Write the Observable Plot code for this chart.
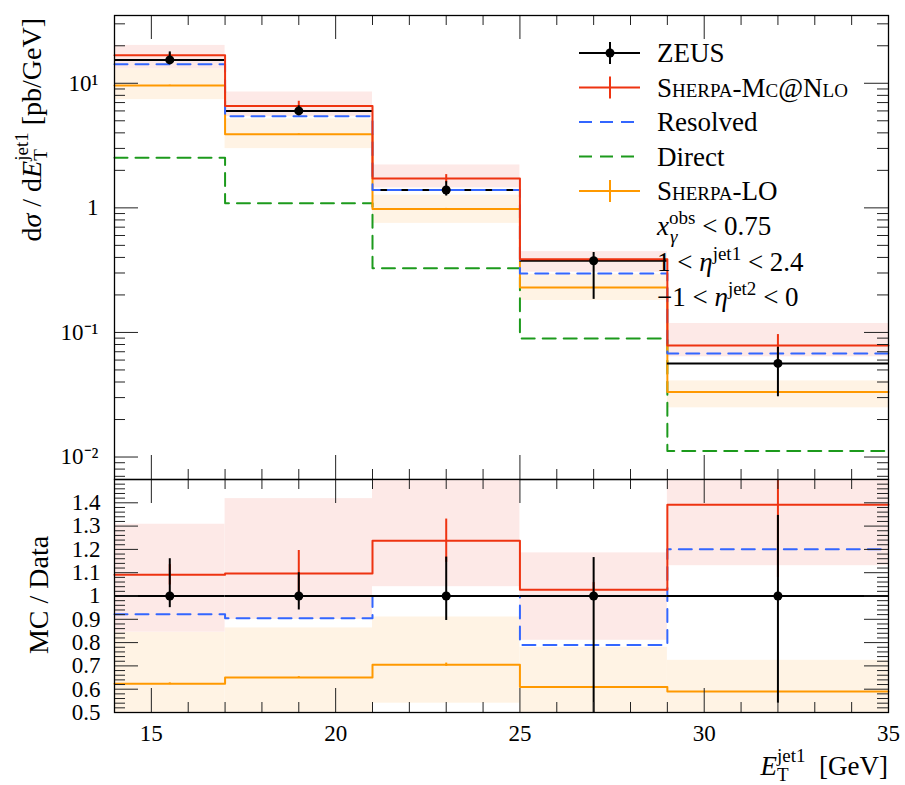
<!DOCTYPE html>
<html><head><meta charset="utf-8">
<script src="https://cdn.jsdelivr.net/npm/d3@7"></script>
<script src="https://cdn.jsdelivr.net/npm/@observablehq/plot@0.6"></script>
<style>
body{margin:0;background:#fff;}
#chart{position:relative;width:905px;height:785px;background:#fff;}
#chart svg{position:absolute;left:0;}
</style></head><body><div id="chart"></div>
<script>
// ---- data ----
const binEdges = [14, 17, 21, 25, 29, 35];
const binCenters = [15.5, 19, 23, 27, 32];
const zeus = [15.4, 6.0, 1.39, 0.376, 0.0564];
const zeusErrUpRatio = [1.16, 1.10, 1.167, 1.165, 1.346];
const zeusErrDnRatio = [0.95, 0.94, 0.895, 0.49, 0.54];
const sherpaMcAtNlo = [16.8, 6.58, 1.72, 0.386, 0.0785];
const sherpaMcAtNloErr = [0.04, 0.09, 0.075, 0.03, 0.225];
const nloBandLoRatio = [0.845, 0.90, 1.04, 0.81, 1.13];
const nloBandHiRatio = [1.308, 1.418, 1.59, 1.185, 2.09];
const resolved = [14.2, 5.43, 1.39, 0.297, 0.0677];
const direct = [2.53, 1.09, 0.328, 0.0895, 0.0112];
const sherpaLO = [9.6, 3.9, 0.98, 0.229, 0.0333];
const sherpaLOErr = [0.006, 0.006, 0.01, 0.006, 0.006];
const loBandLoRatio = [0.48, 0.498, 0.54, 0.48, 0.44];
const loBandHiRatio = [0.845, 0.863, 0.91, 0.78, 0.724];

const legendLabels = ["ZEUS", "Sherpa-Mc@Nlo", "Resolved", "Direct", "Sherpa-LO"];
const xMajorTicks = [15, 20, 25, 30, 35];
const xTickLabels = ["15", "20", "25", "30", "35"];
const xMinorTicks = [14,16,17,18,19,21,22,23,24,26,27,28,29,31,32,33,34];
const logMajorTicks = [0.01, 0.1, 1, 10];
const logTickLabels = ["10\u207B\u00B2", "10\u207B\u00B9", "1", "10\u00B9"];
const logMinorTicks = [0.007,0.008,0.009,0.02,0.03,0.04,0.05,0.06,0.07,0.08,0.09,0.2,0.3,0.4,0.5,0.6,0.7,0.8,0.9,2,3,4,5,6,7,8,9,20,30];
const ratioMajorTicks = [0.5,0.6,0.7,0.8,0.9,1.0,1.1,1.2,1.3,1.4];
const ratioTickLabels = ["0.5","0.6","0.7","0.8","0.9","1","1.1","1.2","1.3","1.4"];
const ratioMinorTicks = d3.range(50, 151, 2).filter(v => v % 10 !== 0).map(v => v / 100);

// ---- styles ----
const FONT = "'Liberation Serif', 'Times New Roman', serif";
const RED = "#ee3311", BLUE = "#3366ff", GREEN = "#1c9a1c", ORANGE = "#ff9900";
const PINK_BAND = "#fde9e7", ORANGE_BAND = "#fff3e4";
const DASH = "13,8";
const W = 905, ML = 114, MR = 17;
const TOP_H = 479, TOP_MT = 15;
const BOT_H = 306, BOT_MB = 73;
const innerW = W - ML - MR;
const innerTopH = TOP_H - TOP_MT;
const innerBotH = BOT_H - BOT_MB;
const TICK_FS = 23, LABEL_FS = 28, LEG_FS = 27, SUP_FS = 19;

const bins = zeus.map((v, i) => ({
  lo: binEdges[i], hi: binEdges[i + 1], c: binCenters[i],
  zeus: v, up: zeusErrUpRatio[i], dn: zeusErrDnRatio[i],
  nlo: sherpaMcAtNlo[i], nloErr: sherpaMcAtNloErr[i],
  nloLo: nloBandLoRatio[i], nloHi: nloBandHiRatio[i],
  res: resolved[i], dir: direct[i],
  lo_: sherpaLO[i], loErr: sherpaLOErr[i],
  loLo: loBandLoRatio[i], loHi: loBandHiRatio[i]
}));
const steps = vals => binEdges.map((e, i) => ({x: e, y: vals[Math.min(i, vals.length - 1)]}));
const ratioOf = vals => vals.map((v, i) => v / zeus[i]);

function tickRules(xMaj, xMin, yMaj, yMin, innerH) {
  const s = {stroke: "#222", strokeWidth: 1};
  return [
    Plot.ruleX(xMaj, {...s, insetTop: innerH - 24}),
    Plot.ruleX(xMaj, {...s, insetBottom: innerH - 24}),
    Plot.ruleX(xMin, {...s, insetTop: innerH - 10}),
    Plot.ruleX(xMin, {...s, insetBottom: innerH - 10}),
    Plot.ruleY(yMaj, {...s, insetRight: innerW - 24}),
    Plot.ruleY(yMaj, {...s, insetLeft: innerW - 24}),
    Plot.ruleY(yMin, {...s, insetRight: innerW - 11}),
    Plot.ruleY(yMin, {...s, insetLeft: innerW - 11})
  ];
}

const baseStyle = {fontFamily: FONT, fontSize: TICK_FS + "px", color: "black", overflow: "visible", background: "transparent"};

// ---- top panel ----
const topSvg = Plot.plot({
  width: W, height: TOP_H, marginTop: TOP_MT, marginBottom: 0, marginLeft: ML, marginRight: MR,
  style: baseStyle,
  x: {domain: [14, 35], axis: null},
  y: {type: "log", domain: [0.0066, 35], axis: null},
  marks: [
    Plot.rect(bins, {x1: "lo", x2: "hi", y1: d => d.zeus * d.loLo, y2: d => d.zeus * d.loHi, fill: ORANGE_BAND, clip: true}),
    Plot.rect(bins, {x1: "lo", x2: "hi", y1: d => d.zeus * d.nloLo, y2: d => d.zeus * d.nloHi, fill: PINK_BAND, clip: true}),
    Plot.line(steps(direct), {x: "x", y: "y", curve: "step-after", stroke: GREEN, strokeWidth: 2, strokeDasharray: DASH}),
    Plot.line(steps(sherpaLO), {x: "x", y: "y", curve: "step-after", stroke: ORANGE, strokeWidth: 2}),
    Plot.ruleY(bins, {x1: "lo", x2: "hi", y: "zeus", stroke: "black", strokeWidth: 2}),
    Plot.line(steps(resolved), {x: "x", y: "y", curve: "step-after", stroke: BLUE, strokeWidth: 2, strokeDasharray: DASH}),
    Plot.line(steps(sherpaMcAtNlo), {x: "x", y: "y", curve: "step-after", stroke: RED, strokeWidth: 2}),
    Plot.ruleX(bins, {x: "c", y1: d => d.nlo * (1 - d.nloErr), y2: d => d.nlo * (1 + d.nloErr), stroke: RED, strokeWidth: 2}),
    Plot.ruleX(bins, {x: "c", y1: d => d.lo_ * (1 - d.loErr), y2: d => d.lo_ * (1 + d.loErr), stroke: ORANGE, strokeWidth: 2}),
    Plot.ruleX(bins, {x: "c", y1: d => d.zeus * d.dn, y2: d => d.zeus * d.up, stroke: "black", strokeWidth: 2}),
    Plot.dot(bins, {x: "c", y: "zeus", r: 4.5, fill: "black"}),
    ...tickRules(xMajorTicks, xMinorTicks, logMajorTicks, logMinorTicks, innerTopH),
    Plot.text(logMajorTicks, {y: d => d, text: (d, i) => logTickLabels[i], frameAnchor: "left", dx: -16, textAnchor: "end", lineAnchor: "middle", fontSize: TICK_FS}),
    Plot.frame({stroke: "black", strokeWidth: 1.3})
  ]
});

// ---- ratio panel ----
const botSvg = Plot.plot({
  width: W, height: BOT_H, marginTop: 0, marginBottom: BOT_MB, marginLeft: ML, marginRight: MR,
  style: baseStyle,
  x: {domain: [14, 35], axis: null},
  y: {domain: [0.5, 1.5], axis: null},
  marks: [
    Plot.rect(bins, {x1: "lo", x2: "hi", y1: "loLo", y2: "loHi", fill: ORANGE_BAND, clip: true}),
    Plot.rect(bins, {x1: "lo", x2: "hi", y1: "nloLo", y2: "nloHi", fill: PINK_BAND, clip: true}),
    Plot.line(steps(ratioOf(sherpaLO)), {x: "x", y: "y", curve: "step-after", stroke: ORANGE, strokeWidth: 2}),
    Plot.line(steps(ratioOf(resolved)), {x: "x", y: "y", curve: "step-after", stroke: BLUE, strokeWidth: 2, strokeDasharray: DASH}),
    Plot.line(steps(ratioOf(sherpaMcAtNlo)), {x: "x", y: "y", curve: "step-after", stroke: RED, strokeWidth: 2}),
    Plot.ruleX(bins, {x: "c", y1: d => d.nlo / d.zeus * (1 - d.nloErr), y2: d => d.nlo / d.zeus * (1 + d.nloErr), stroke: RED, strokeWidth: 2, clip: true}),
    Plot.ruleX(bins, {x: "c", y1: d => d.lo_ / d.zeus * (1 - d.loErr), y2: d => d.lo_ / d.zeus * (1 + d.loErr), stroke: ORANGE, strokeWidth: 2, clip: true}),
    Plot.ruleY(bins, {x1: "lo", x2: "hi", y: () => 1, stroke: "black", strokeWidth: 2}),
    Plot.ruleX(bins, {x: "c", y1: "dn", y2: "up", stroke: "black", strokeWidth: 2, clip: true}),
    Plot.dot(bins, {x: "c", y: () => 1, r: 4.5, fill: "black"}),
    ...tickRules(xMajorTicks, xMinorTicks, ratioMajorTicks, ratioMinorTicks, innerBotH),
    Plot.text(ratioMajorTicks, {y: d => d, text: (d, i) => ratioTickLabels[i], frameAnchor: "left", dx: -14, textAnchor: "end", lineAnchor: "middle", fontSize: TICK_FS}),
    Plot.text(xMajorTicks, {x: d => d, text: (d, i) => xTickLabels[i], frameAnchor: "bottom", dy: 12, textAnchor: "middle", lineAnchor: "top", fontSize: TICK_FS}),
    Plot.frame({stroke: "black", strokeWidth: 1.3})
  ]
});

const chart = document.getElementById("chart");
topSvg.style.top = "0px";
botSvg.style.top = TOP_H + "px";
chart.appendChild(topSvg);
chart.appendChild(botSvg);

// ---- text helpers ----
const ctx = document.createElement("canvas").getContext("2d");
function tw(txt, size, italic) {
  ctx.font = `${italic ? "italic " : ""}${size}px "Liberation Serif"`;
  return ctx.measureText(txt).width;
}

// ---- legend ----
const tsel = d3.select(topSvg);
const lg = tsel.append("g").attr("font-family", FONT).attr("font-size", LEG_FS).attr("fill", "black").attr("text-anchor", "start");
const legendColors = ["black", RED, BLUE, GREEN, ORANGE];
const legendDashed = [false, false, true, true, false];
const legendBar = [true, true, false, false, true];
legendLabels.forEach((lab, i) => {
  const y = 53 + i * 34.5;
  lg.append("line").attr("x1", 579).attr("x2", 640).attr("y1", y).attr("y2", y)
    .attr("stroke", legendColors[i]).attr("stroke-width", 2)
    .attr("stroke-dasharray", legendDashed[i] ? DASH : null);
  if (legendBar[i]) lg.append("line").attr("x1", 610).attr("x2", 610).attr("y1", y - 11).attr("y2", y + 11)
    .attr("stroke", legendColors[i]).attr("stroke-width", 2);
  if (i === 0) lg.append("circle").attr("cx", 610).attr("cy", y).attr("r", 4.5).attr("fill", "black");
  lg.append("text").attr("x", 657).attr("y", y + 9).attr("text-anchor", "start")
    .style("font-variant", i === 1 || i === 4 ? "small-caps" : "normal").text(lab);
});

// cuts annotation
const ann = tsel.append("g").attr("font-family", FONT).attr("font-size", LEG_FS).attr("fill", "black").attr("text-anchor", "start");
{
  const t = ann.append("text").attr("x", 657).attr("y", 235);
  t.append("tspan").attr("font-style", "italic").text("x");
  t.append("tspan").attr("font-size", SUP_FS).attr("dy", -11).text("obs");
  const wObs = tw("obs", SUP_FS), wG = tw("γ", SUP_FS, true);
  t.append("tspan").attr("font-size", SUP_FS).attr("font-style", "italic").attr("dx", -wObs + 1).attr("dy", 19).text("γ");
  t.append("tspan").attr("dx", wObs - wG - 1).attr("dy", -8).text(" < 0.75");
}
{
  const t = ann.append("text").attr("x", 657).attr("y", 271);
  t.append("tspan").text("1 < ");
  t.append("tspan").attr("font-style", "italic").text("η");
  t.append("tspan").attr("font-size", SUP_FS).attr("dy", -11).text("jet1");
  t.append("tspan").attr("dy", 11).text(" < 2.4");
}
{
  const t = ann.append("text").attr("x", 657).attr("y", 306);
  t.append("tspan").text("\u22121 < ");
  t.append("tspan").attr("font-style", "italic").text("η");
  t.append("tspan").attr("font-size", SUP_FS).attr("dy", -11).text("jet2");
  t.append("tspan").attr("dy", 11).text(" < 0");
}

// y label (top)
{
  const t = tsel.append("text").attr("font-family", FONT).attr("font-size", LABEL_FS)
    .attr("transform", "translate(41,18) rotate(-90)").attr("text-anchor", "end");
  t.append("tspan").text("d");
  t.append("tspan").attr("font-style", "italic").text("σ");
  t.append("tspan").text(" / d");
  t.append("tspan").attr("font-style", "italic").text("E");
  t.append("tspan").attr("font-size", SUP_FS).attr("dy", 6).text("T");
  const wT = tw("T", SUP_FS);
  t.append("tspan").attr("font-size", SUP_FS).attr("dx", -wT).attr("dy", -19).text("jet1");
  t.append("tspan").attr("dy", 13).text(" [pb/GeV]");
}

// ratio panel labels
const bsel = d3.select(botSvg);
bsel.append("text").attr("font-family", FONT).attr("font-size", LABEL_FS)
  .attr("transform", `translate(48,${595 - TOP_H}) rotate(-90)`).attr("text-anchor", "middle").text("MC / Data");
{
  const t = bsel.append("text").attr("font-family", FONT).attr("font-size", LEG_FS)
    .attr("x", W - MR).attr("y", 775 - TOP_H).attr("text-anchor", "end");
  t.append("tspan").attr("font-style", "italic").text("E");
  t.append("tspan").attr("font-size", SUP_FS).attr("dy", 6).text("T");
  const wT = tw("T", SUP_FS);
  t.append("tspan").attr("font-size", SUP_FS).attr("dx", -wT).attr("dy", -19).text("jet1");
  t.append("tspan").attr("dy", 13).text("  [GeV]");
}
</script></body></html>
